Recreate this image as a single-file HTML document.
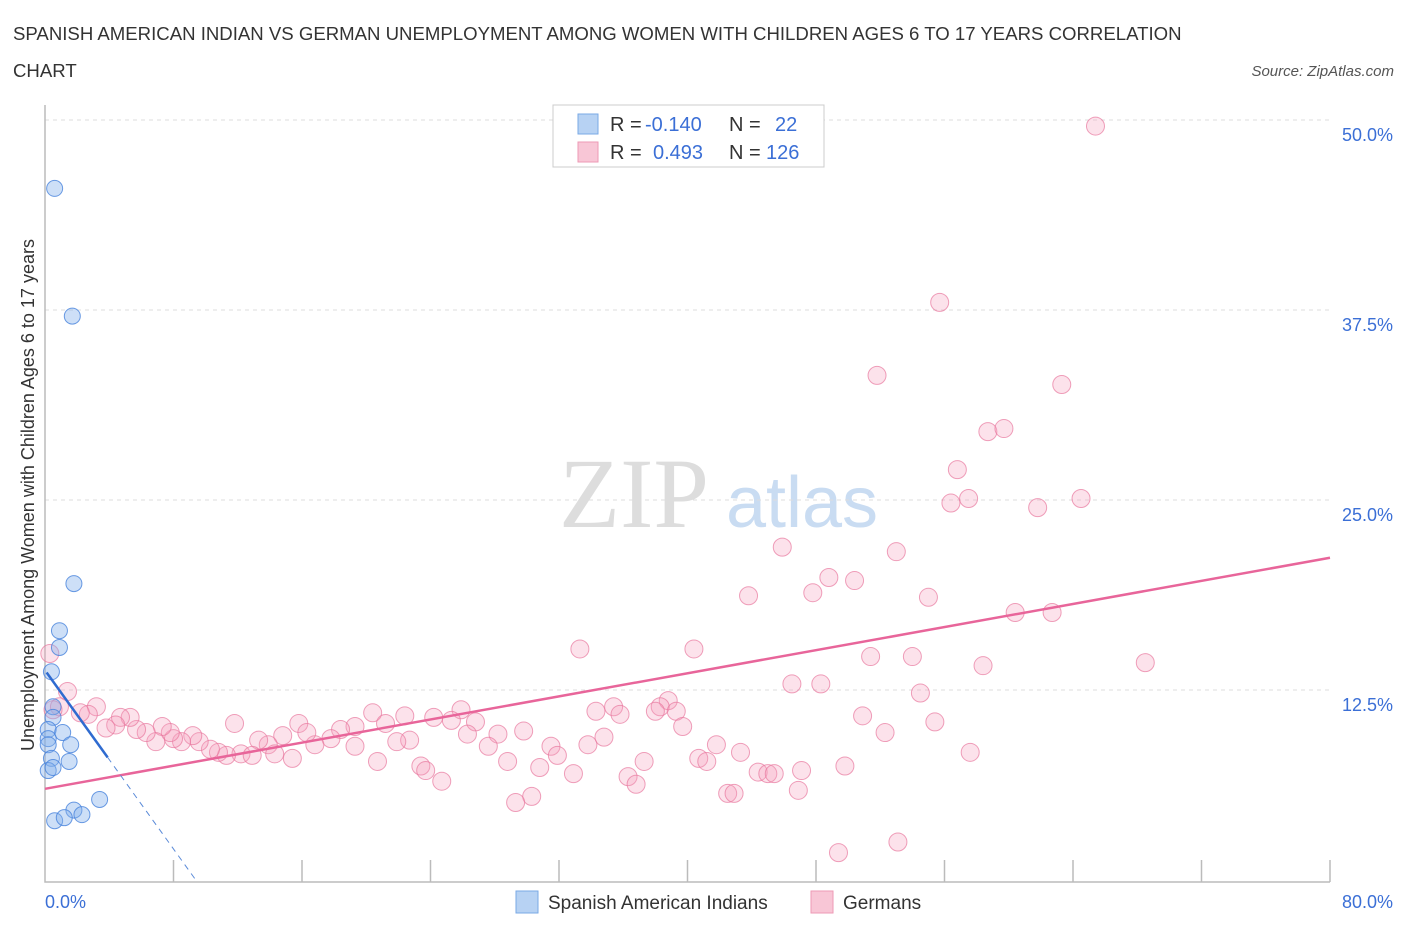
<!DOCTYPE html>
<html><head><meta charset="utf-8"><style>
body{margin:0;background:#fff;font-family:"Liberation Sans",sans-serif;}
</style></head><body>
<svg id="c" width="1406" height="930" xmlns="http://www.w3.org/2000/svg">
<text x="13" y="40" font-size="18.6" fill="#333">SPANISH AMERICAN INDIAN VS GERMAN UNEMPLOYMENT AMONG WOMEN WITH CHILDREN AGES 6 TO 17 YEARS CORRELATION</text>
<text x="13" y="77" font-size="18.6" fill="#333">CHART</text>
<text x="1394" y="76" font-size="15" fill="#555" font-style="italic" text-anchor="end">Source: ZipAtlas.com</text>
<text x="634" y="527" font-size="100" fill="#ddd" font-family="Liberation Serif,serif" text-anchor="middle">ZIP</text>
<text x="802" y="527" font-size="72" fill="#c9dcf2" text-anchor="middle">atlas</text>
<g id="grid"></g>
<g id="axes"></g>
<g id="pts"></g>
<g id="lines"></g>
<text transform="translate(34,495) rotate(-90)" font-size="18" fill="#333" text-anchor="middle">Unemployment Among Women with Children Ages 6 to 17 years</text>
<text x="45" y="908" font-size="18" fill="#3b6fd6">0.0%</text>
<text x="1393" y="908" font-size="18" fill="#3b6fd6" text-anchor="end">80.0%</text>
<g>
<rect x="553" y="105" width="271" height="62" fill="#fff" stroke="#ccc"/>
<rect x="578" y="114" width="20" height="20" fill="#b7d2f3" stroke="#7aa9e6"/>
<rect x="578" y="142" width="20" height="20" fill="#f8c6d6" stroke="#ee9ab5"/>
<text y="131" font-size="20" fill="#333"><tspan x="610">R =</tspan><tspan fill="#3b6fd6" x="645">-0.140</tspan><tspan x="729">N =</tspan><tspan fill="#3b6fd6" x="775">22</tspan></text>
<text y="159" font-size="20" fill="#333"><tspan x="610">R =</tspan><tspan fill="#3b6fd6" x="653">0.493</tspan><tspan x="729">N =</tspan><tspan fill="#3b6fd6" x="766">126</tspan></text>
</g>
<g>
<rect x="516" y="891" width="22" height="22" fill="#b7d2f3" stroke="#7aa9e6"/>
<text x="548" y="909" font-size="19" fill="#333">Spanish American Indians</text>
<rect x="811" y="891" width="22" height="22" fill="#f8c6d6" stroke="#ee9ab5"/>
<text x="843" y="909" font-size="19" fill="#333">Germans</text>
</g>
</svg>
<script>
const yTicks=[12.5,25,37.5,50];
const yTickLabels=["12.5%","25.0%","37.5%","50.0%"];
const xTicks=[8,16,24,32,40,48,56,64,72,80];
const germanX=[65.4,55.7,51.8,63.3,58.7,59.7,56.8,57.5,56.4,64.5,61.8,45.9,53.0,48.8,50.4,47.8,43.8,55.0,60.4,62.7,33.3,40.4,51.4,54.0,58.4,68.5,46.5,48.3,54.5,38.8,50.9,55.4,52.3,57.6,49.8,34.3,35.4,35.8,38.3,38.0,39.3,39.7,41.8,43.3,40.7,41.2,44.4,45.0,45.4,47.1,46.9,42.5,42.9,36.3,36.8,37.3,33.8,34.8,31.5,31.9,32.9,30.8,29.8,28.2,27.6,28.8,26.8,25.9,25.3,26.3,24.2,22.4,20.4,21.2,22.7,21.9,20.7,23.4,23.7,24.7,30.3,29.3,19.3,18.4,17.8,19.3,16.8,15.8,16.3,14.8,13.9,13.3,15.4,14.3,11.8,12.2,12.9,11.3,10.8,10.3,9.6,9.2,8.5,8.0,7.8,7.3,6.9,6.3,5.7,5.3,4.7,4.4,3.8,3.2,2.7,2.2,1.4,0.9,0.5,0.3,49.4,53.1];
const germanY=[49.6,38.0,33.2,32.6,29.5,29.7,27.0,25.1,24.8,25.1,24.5,21.9,21.6,19.9,19.7,18.9,18.7,18.6,17.6,17.6,15.2,15.2,14.7,14.7,14.1,14.3,12.9,12.9,12.3,11.8,10.8,10.4,9.7,8.4,7.5,11.1,11.4,10.9,11.4,11.1,11.1,10.1,8.9,8.4,8.0,7.8,7.1,7.0,7.0,7.2,5.9,5.7,5.7,6.8,6.3,7.8,8.9,9.4,8.8,8.2,7.0,7.4,9.8,9.6,8.8,7.8,10.4,11.2,10.5,9.6,10.7,10.8,11.0,10.3,9.2,9.1,7.8,7.5,7.2,6.5,5.5,5.1,10.1,9.9,9.3,8.8,8.9,10.3,9.7,9.5,8.9,9.2,8.0,8.3,10.3,8.3,8.2,8.2,8.4,8.6,9.1,9.5,9.1,9.3,9.7,10.1,9.1,9.7,9.9,10.7,10.7,10.2,10.0,11.4,10.9,11.0,12.4,11.4,11.2,14.9,1.8,2.5];
const spanishX=[0.6,1.7,1.8,0.9,0.9,0.4,0.5,0.5,0.2,1.1,1.6,0.2,0.2,0.4,1.5,0.2,0.5,3.4,1.8,0.6,1.2,2.3];
const spanishY=[45.5,37.1,19.5,16.4,15.3,13.7,11.4,10.7,9.9,9.7,8.9,9.3,8.9,8.0,7.8,7.2,7.4,5.3,4.6,3.9,4.1,4.3];
const germanTrend=[6.0,21.2];
const spanishTrend=[13.8,-1.47];
const NS="http://www.w3.org/2000/svg";
const X=v=>45+v*1285/80, Y=v=>880-v*15.2;
function mk(t,a,p){const e=document.createElementNS(NS,t);for(const k in a)e.setAttribute(k,a[k]);p.appendChild(e);return e;}
const grid=document.getElementById('grid'),axes=document.getElementById('axes'),pts=document.getElementById('pts'),lines=document.getElementById('lines');
yTicks.forEach((t,i)=>{
 const l=mk('line',{x1:45,x2:1330,y1:Y(t),y2:Y(t),stroke:'#ddd','stroke-dasharray':'4,4'},grid);
 
 
 const tx=mk('text',{x:1393,y:Y(t)+21,'font-size':18,fill:'#3b6fd6','text-anchor':'end'},grid);
 tx.textContent=yTickLabels[i];
 
 
});
const ax=mk('path',{d:'M45 105V882H1330',fill:'none',stroke:'#bbb','stroke-width':1.5},axes);


xTicks.forEach(t=>{
 const l=mk('line',{x1:X(t),x2:X(t),y1:860,y2:882,stroke:'#bbb','stroke-width':1.5},axes);
 
 
});
germanX.forEach((x,i)=>{
 const c=mk('circle',{cx:X(x),cy:Y(germanY[i]),r:9,fill:'rgba(244,160,188,0.3)',stroke:'rgba(232,120,158,0.7)','stroke-width':1},pts);
 
 
});
spanishX.forEach((x,i)=>{
 const c=mk('circle',{cx:X(x),cy:Y(spanishY[i]),r:8,fill:'rgba(130,175,235,0.4)',stroke:'rgba(70,130,220,0.8)','stroke-width':1},pts);
 
 
});
const gl=mk('line',{x1:X(0),y1:Y(germanTrend[0]),x2:X(80),y2:Y(germanTrend[1]),stroke:'#e8659a','stroke-width':2.5},lines);


const sx0=0.1,sx1=3.9,sx2=-spanishTrend[0]/spanishTrend[1];
const sl=mk('line',{x1:X(sx0),y1:Y(spanishTrend[0]+spanishTrend[1]*sx0),x2:X(sx1),y2:Y(spanishTrend[0]+spanishTrend[1]*sx1),stroke:'#2f6bd0','stroke-width':2.5},lines);


const sd=mk('line',{x1:X(sx1),y1:Y(spanishTrend[0]+spanishTrend[1]*sx1),x2:X(sx2),y2:Y(0),stroke:'#5a8ad8','stroke-width':1,'stroke-dasharray':'6,5'},lines);


</script>
</body></html>
